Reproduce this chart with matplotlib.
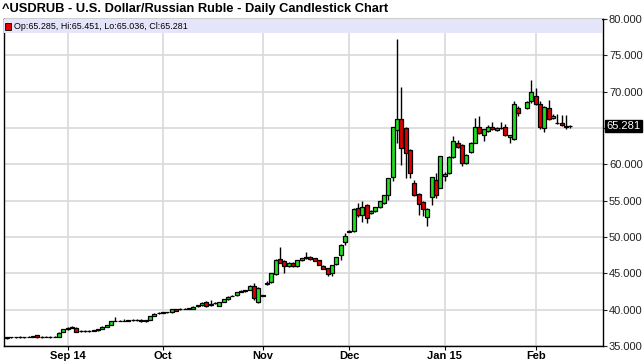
import matplotlib
matplotlib.use("Agg")
import matplotlib.pyplot as plt
import matplotlib.transforms as mtransforms
from matplotlib.patches import Rectangle
import numpy as np
import pandas as pd

plt.rcParams['font.family'] = ['Liberation Sans', 'DejaVu Sans']

# one slot per trading day, Aug 12 2014 .. Feb 12 2015 (Dec 25 / Jan 1 skipped, Jan 19 empty)
holidays = ["2014-12-25", "2015-01-01"]

opens = [
    # Aug
    36.05, 36.22, 36.18, 36.20, 36.22, 36.25, 36.30, 36.48, 36.22, 36.30, 36.28, 36.25, 36.30, 36.95,
    # Sep
    37.30, 37.55, 37.50, 37.05, 37.05, 37.08, 37.10, 37.15, 37.35, 37.65, 37.95, 38.45, 38.48, 38.45,
    38.50, 38.55, 38.60, 38.62, 38.40, 38.60, 39.20, 39.50,
    # Oct
    39.58, 39.62, 39.62, 40.05, 40.05, 40.12, 40.15, 40.12, 40.45, 40.60, 41.05, 40.60, 40.90, 40.45,
    41.10, 41.45, 41.90, 42.00, 42.45, 42.55, 42.70, 43.25, 41.10,
    # Nov
    41.95, 43.60, 43.80, 44.95, 47.00, 46.70, 45.95, 46.45, 45.95, 46.80, 47.05, 47.25, 47.05, 46.80,
    46.00, 45.70, 45.00, 46.35, 47.50, 49.35,
    # Dec
    50.75, 50.80, 54.00, 53.00, 54.45, 53.30, 53.60, 54.10, 54.70, 55.80, 58.25, 64.75, 66.20, 65.00,
    62.00, 57.50, 55.95, 54.80, 52.80, 55.45, 57.90, 56.80,
    # Jan
    58.35, 58.85, 61.00, 63.00, 62.65, 60.20, 61.75, 63.00, 65.10, 64.00, 64.55, 65.20, 64.75, 64.95,
    65.20, 63.70, 63.50, 67.75, np.nan, 67.75, 68.65,
    # Feb
    69.35, 68.30, 65.00, 67.70, 66.35, 65.70, 65.70, 65.25, 65.285,
]
highs = [
    36.30, 36.30, 36.28, 36.35, 36.30, 36.38, 36.45, 36.55, 36.35, 36.38, 36.35, 36.32, 36.90, 37.40,
    37.65, 37.70, 37.65, 37.15, 37.20, 37.18, 37.25, 37.35, 37.70, 37.95, 38.50, 39.00, 38.60, 38.70,
    38.65, 38.75, 38.70, 38.70, 38.60, 39.20, 39.50, 39.65,
    39.70, 39.75, 40.15, 40.15, 40.20, 40.25, 40.25, 40.45, 40.70, 41.00, 41.25, 41.30, 41.05, 41.10,
    41.50, 41.85, 42.05, 42.45, 42.65, 42.75, 43.40, 43.70, 43.10,
    42.00, 43.90, 45.10, 47.00, 48.65, 46.80, 46.55, 46.55, 46.85, 47.15, 48.00, 47.45, 47.15, 46.90,
    46.10, 45.80, 46.20, 47.30, 49.00, 50.60,
    50.95, 54.00, 54.70, 54.90, 54.55, 53.70, 54.20, 54.95, 55.80, 58.15, 65.15, 77.20, 70.70, 65.10,
    62.10, 57.80, 56.05, 54.90, 54.00, 58.30, 58.85, 61.20,
    58.90, 61.10, 63.90, 63.40, 62.75, 61.40, 63.10, 66.35, 66.60, 64.90, 65.45, 65.80, 65.10, 65.80,
    65.50, 64.10, 68.65, 68.00, np.nan, 68.70, 71.60,
    70.50, 68.65, 68.05, 68.90, 66.90, 66.90, 66.80, 66.80, 65.451,
]
lows = [
    36.00, 36.12, 36.10, 36.12, 36.15, 36.18, 36.25, 36.15, 36.15, 36.22, 36.15, 36.18, 36.25, 36.90,
    37.25, 37.45, 36.95, 36.95, 36.98, 37.00, 37.05, 37.10, 37.30, 37.60, 37.90, 38.40, 38.40, 38.40,
    38.42, 38.50, 38.50, 38.35, 38.35, 38.55, 39.15, 39.45,
    39.50, 39.55, 39.58, 39.80, 40.00, 40.05, 40.05, 40.08, 40.40, 40.55, 40.40, 40.55, 40.85, 40.45,
    41.05, 41.40, 41.85, 41.95, 42.40, 42.50, 42.65, 41.40, 40.90,
    41.90, 43.40, 43.70, 44.80, 46.40, 45.10, 45.85, 45.85, 45.90, 46.75, 46.95, 46.85, 46.70, 46.10,
    45.55, 44.70, 44.70, 46.10, 46.90, 48.90,
    50.65, 50.70, 52.80, 52.10, 52.00, 53.20, 53.50, 53.95, 54.50, 55.10, 57.70, 62.90, 59.90, 58.10,
    58.10, 55.60, 53.00, 52.85, 51.55, 54.40, 55.40, 56.70,
    57.70, 58.70, 60.90, 62.30, 59.80, 60.05, 61.60, 62.90, 64.20, 63.15, 64.45, 64.70, 64.60, 64.85,
    63.90, 62.95, 63.30, 66.60, np.nan, 67.60, 68.50,
    68.20, 64.90, 64.40, 66.10, 66.20, 65.50, 65.30, 64.85, 65.036,
]
closes = [
    36.25, 36.18, 36.20, 36.22, 36.25, 36.30, 36.42, 36.20, 36.30, 36.28, 36.25, 36.30, 36.85, 37.30,
    37.55, 37.60, 37.00, 37.05, 37.08, 37.10, 37.18, 37.30, 37.60, 37.90, 38.45, 38.50, 38.45, 38.50,
    38.55, 38.60, 38.62, 38.40, 38.55, 39.15, 39.45, 39.58,
    39.62, 39.65, 40.10, 39.85, 40.12, 40.15, 40.18, 40.40, 40.60, 40.95, 40.50, 40.85, 40.95, 41.05,
    41.45, 41.80, 41.95, 42.40, 42.55, 42.65, 43.30, 41.60, 43.00,
    41.95, 43.70, 45.00, 46.90, 46.45, 46.00, 46.45, 45.95, 46.80, 47.10, 47.20, 47.00, 46.75, 46.20,
    45.60, 44.95, 46.15, 47.25, 48.95, 50.10,
    50.85, 53.80, 53.00, 54.10, 52.60, 53.60, 54.10, 54.90, 55.73, 58.10, 65.10, 66.20, 62.20, 61.55,
    58.80, 55.80, 54.60, 53.80, 53.90, 58.25, 55.80, 61.10,
    58.65, 61.00, 63.20, 62.40, 60.20, 61.30, 63.00, 65.20, 64.30, 64.85, 65.10, 64.80, 65.00, 65.00,
    64.00, 64.00, 68.30, 67.05, np.nan, 68.55, 69.90,
    68.30, 65.10, 67.85, 66.20, 66.70, 65.65, 65.45, 65.20, 65.281,
]

month_labels = ["Sep 14", "Oct", "Nov", "Dec", "Jan 15", "Feb"]
title = "^USDRUB - U.S. Dollar/Russian Ruble - Daily Candlestick Chart"

dates = pd.bdate_range("2014-08-12", "2015-02-12")
dates = dates[~dates.isin(pd.to_datetime(holidays))]
df = pd.DataFrame({'date': dates, 'open': opens, 'high': highs, 'low': lows, 'close': closes})
df['x'] = np.arange(len(df))

# month ticks at the first slot of each month
first_of_month = df.groupby(df['date'].dt.to_period('M'))['x'].min().values[1:]

fig = plt.figure(figsize=(6.44, 3.62), dpi=100)
ax = fig.add_axes([0.0067, 0.0440, 0.9292, 0.9035])

green = '#1fe01f'
red = '#e00000'

d = df.dropna()
up = d['close'] >= d['open']
# wicks
ax.vlines(d['x'], d['low'], d['high'], color='black', linewidth=1.0, zorder=2)
# bodies
body_lo = np.minimum(d['open'], d['close'])
body_h = np.maximum(np.abs(d['close'] - d['open']), 0.02)
ax.bar(d['x'], body_h, bottom=body_lo, width=0.95,
       color=np.where(up, green, red), edgecolor='black', linewidth=0.9, zorder=3)

last = d.iloc[-1]

ax.set_xlim(-0.64, 137.5)
ax.set_ylim(35, 80)
ax.set_axisbelow(True)
ax.grid(True, color='#d9d9d9', linewidth=1.2)

ax.set_xticks(first_of_month)
ax.set_xticklabels(month_labels, fontsize=8, fontweight='bold')
ax.set_yticks(np.arange(35, 81, 5))
# the 65 label sits under the last-price box
ax.yaxis.set_major_formatter(matplotlib.ticker.FuncFormatter(
    lambda v, p: '' if abs(v - last['close']) < 1.5 else '%.3f' % v))
ax.yaxis.tick_right()
ax.tick_params(axis='y', labelsize=8, length=3, pad=1.5, colors='#222222')
ax.tick_params(axis='x', length=3, pad=0.5)
for s in ax.spines.values():
    s.set_color('black')
    s.set_linewidth(1.0)

# legend band at the top of the plot
blend = mtransforms.blended_transform_factory(ax.transAxes, ax.transData)
ax.add_patch(Rectangle((0, 78.1), 0.998, 1.9, transform=blend, facecolor='#e4e4fa',
                       edgecolor='none', zorder=4))
ax.add_patch(Rectangle((0.0015, 78.5), 0.0105, 0.9, transform=blend,
                       facecolor=red if last['close'] < last['open'] else green,
                       edgecolor='black', linewidth=0.6, zorder=5))
ax.text(0.017, 78.95, "Op:%.3f, Hi:%.3f, Lo:%.3f, Cl:%.3f" % (last['open'], last['high'], last['low'], last['close']),
        transform=blend, fontsize=6.4, va='center', ha='left', zorder=5)

# last price marker on the right axis
ax.text(1.006, last['close'], "%.3f" % last['close'], transform=blend, fontsize=8, color='white',
        va='center', ha='left', zorder=10, clip_on=False,
        bbox=dict(boxstyle='square,pad=0.12', facecolor='black', edgecolor='black'))

fig.text(0.003, 0.975, title, fontsize=9.3, fontweight='bold', va='center', ha='left')

fig.savefig("out.png", dpi=100)
